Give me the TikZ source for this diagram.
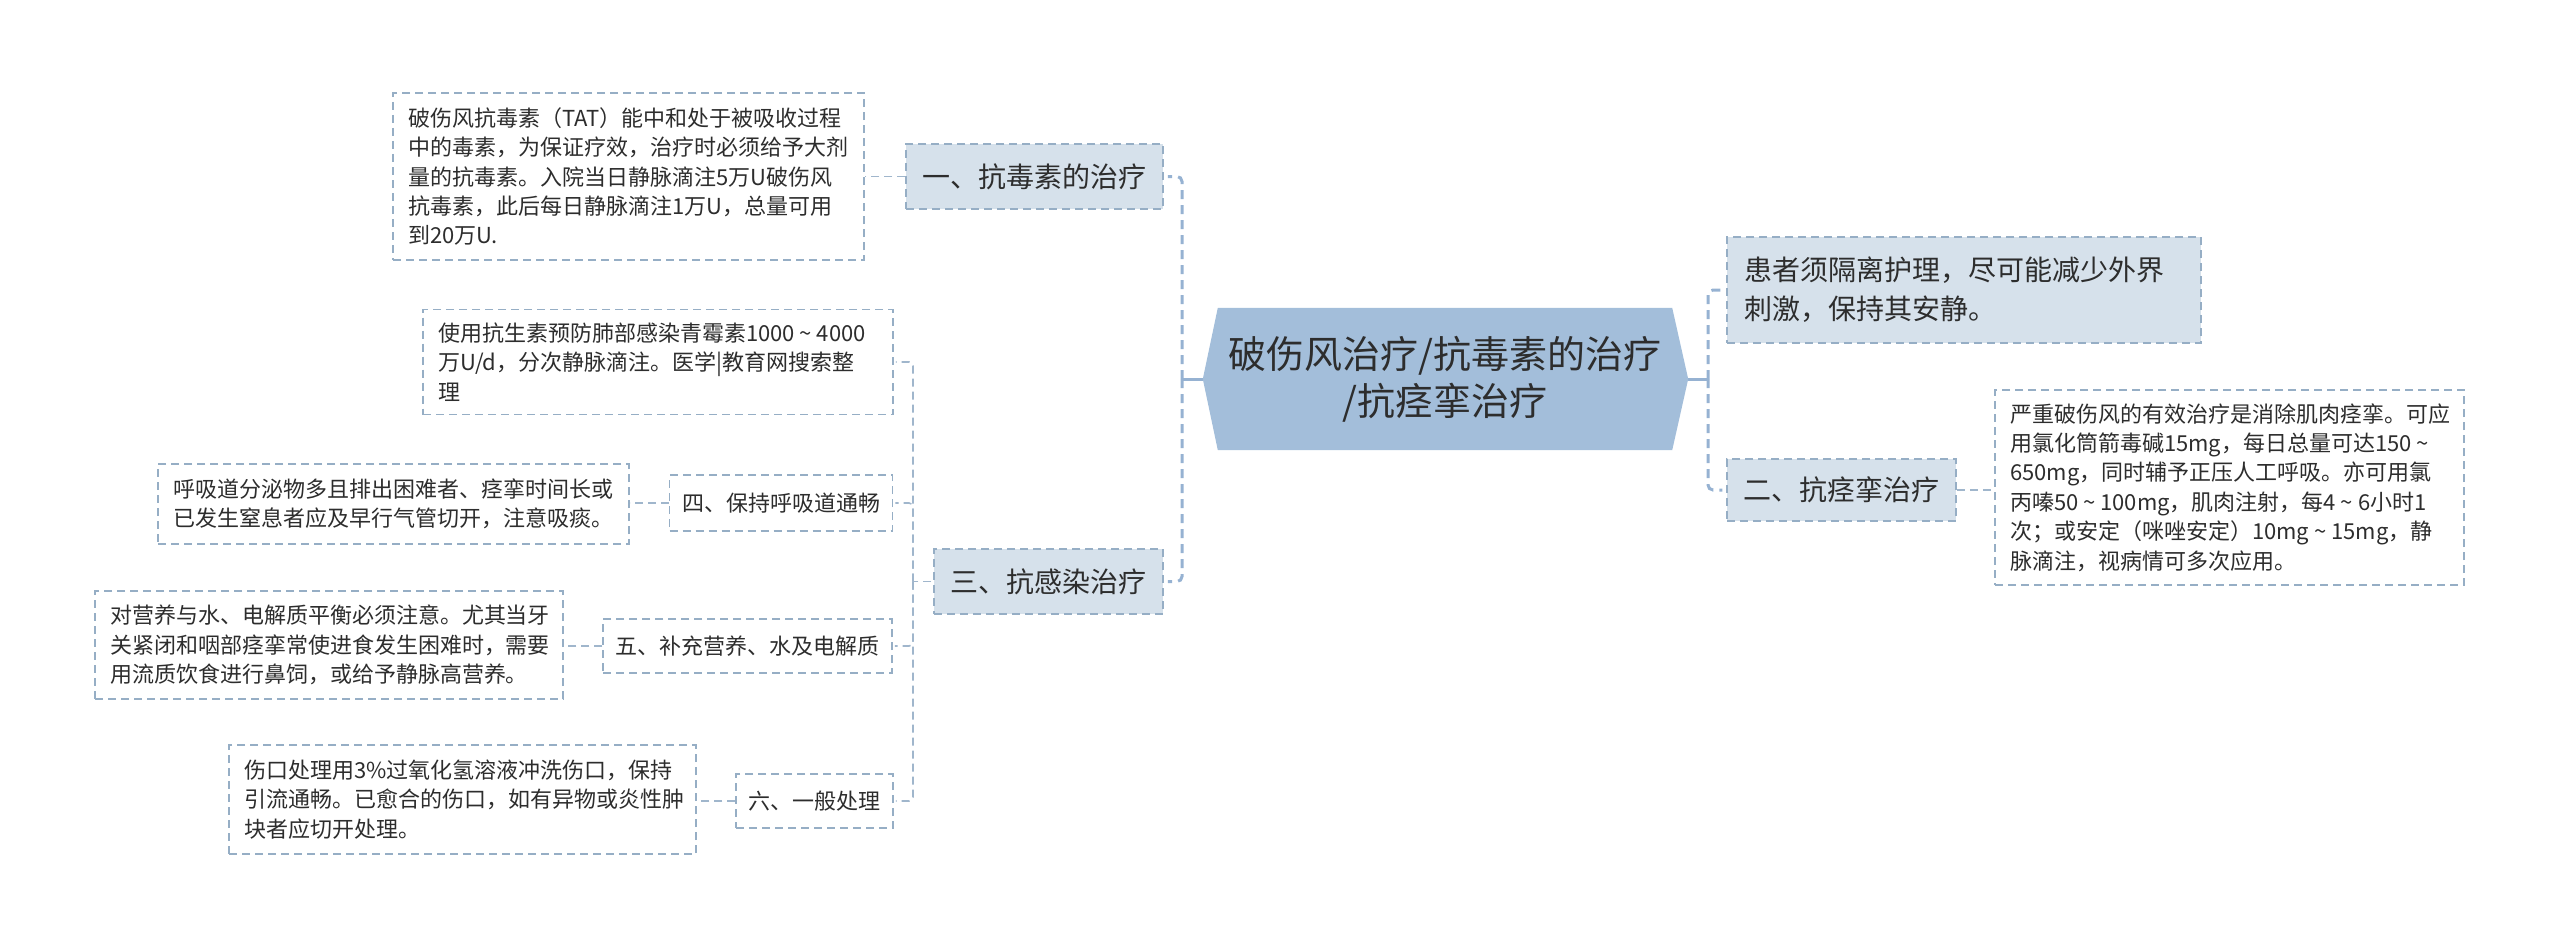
\documentclass[tikz,border=0pt]{standalone}
\usepackage{fontspec}
\setmainfont{Noto Sans CJK SC}
\usetikzlibrary{backgrounds}
\newcommand{\wtil}{\hbox to 1em{\hss\textasciitilde\hss}}
\definecolor{rootfill}{RGB}{163,190,218}
\definecolor{labfill}{RGB}{214,225,235}
\definecolor{bord}{RGB}{150,174,197}
\definecolor{conn}{RGB}{160,182,204}
\definecolor{trunkc}{RGB}{150,178,210}
\definecolor{txt}{RGB}{45,45,45}
\tikzset{
  dasheight/.style={dash pattern=on 8pt off 5pt},
  box/.style={draw=bord, line width=1.5pt, dasheight, text=txt, align=left, inner ysep=0pt},
  leaf/.style={box, fill=white, font=\fontsize{22}{29.4}\selectfont, inner xsep=15pt},
  labone/.style={box, fill=labfill, font=\fontsize{28}{38}\selectfont, inner xsep=16.5pt, minimum height=65pt},
  labtwo/.style={box, fill=white, font=\fontsize{22}{29}\selectfont, inner xsep=12.5pt},
  rootn/.style={text=txt, align=center, font=\fontsize{38}{47}\selectfont, minimum width=454pt, minimum height=142pt, inner sep=0pt},
  rootline/.style={draw=trunkc, line width=3pt},
  trunk/.style={draw=trunkc, line width=3pt, dash pattern=on 9pt off 6pt, rounded corners=5pt},
  sub/.style={draw=conn, line width=1.6pt, dasheight, rounded corners=4pt}
}
\begin{document}
\begin{tikzpicture}[x=1pt,y=-1pt]
\useasboundingbox (0,0) rectangle (2560,950);
% root
\node[rootn] (root) at (1445,379) {破伤风治疗/抗毒素的治疗\\/抗痉挛治疗};
\coordinate (rootL) at ([xshift=-15pt]root.west);
\coordinate (rootR) at ([xshift=16pt]root.east);
\begin{pgfonlayer}{background}
\fill[rootfill] (rootL) -- (root.north west) -- (root.north east) -- (rootR) -- (root.south east) -- (root.south west) -- cycle;
\end{pgfonlayer}
% left side
\node[labone] (c1) at (1034.5,176.5) {一、抗毒素的治疗};
\node[leaf, text width=441pt, minimum height=167pt] (t1) at (628.5,176.5) {破伤风抗毒素（TAT）能中和处于被吸收过程\\中的毒素，为保证疗效，治疗时必须给予大剂\\量的抗毒素。入院当日静脉滴注5万U破伤风\\抗毒素，此后每日静脉滴注1万U，总量可用\\到20万U.};
\node[labone] (c3) at (1048.5,581.5) {三、抗感染治疗};
\node[leaf, text width=440pt, minimum height=105pt] (t3) at (658,362) {使用抗生素预防肺部感染青霉素1000\wtil4000\\万U/d，分次静脉滴注。医学|教育网搜索整\\理};
\node[labtwo, minimum height=56pt] (c4) at (781,503) {四、保持呼吸道通畅};
\node[leaf, text width=441pt, minimum height=80pt] (t4) at (393.5,504) {呼吸道分泌物多且排出困难者、痉挛时间长或\\已发生窒息者应及早行气管切开，注意吸痰。};
\node[labtwo, minimum height=54pt] (c5) at (747.5,646) {五、补充营养、水及电解质};
\node[leaf, text width=438pt, minimum height=108pt] (t5) at (329,645) {对营养与水、电解质平衡必须注意。尤其当牙\\关紧闭和咽部痉挛常使进食发生困难时，需要\\用流质饮食进行鼻饲，或给予静脉高营养。};
\node[labtwo, minimum height=54pt] (c6) at (814.5,801) {六、一般处理};
\node[leaf, text width=437pt, minimum height=109pt] (t6) at (462.5,799.5) {伤口处理用3\%过氧化氢溶液冲洗伤口，保持\\引流通畅。已愈合的伤口，如有异物或炎性肿\\块者应切开处理。};
% right side
\node[box, fill=labfill, font=\fontsize{28}{39}\selectfont, inner xsep=17pt, text width=440pt, minimum height=106pt] (r1) at (1964,290) {患者须隔离护理，尽可能减少外界\\刺激，保持其安静。};
\node[labone, minimum height=62pt] (r2) at (1841.5,490) {二、抗痉挛治疗};
\node[leaf, text width=439pt, minimum height=195pt] (t2) at (2229.5,487.5) {严重破伤风的有效治疗是消除肌肉痉挛。可应\\用氯化筒箭毒碱15mg，每日总量可达150\wtil\\650mg，同时辅予正压人工呼吸。亦可用氯\\丙嗪50\wtil100mg，肌肉注射，每4\wtil6小时1\\次；或安定（咪唑安定）10mg\wtil15mg，静\\脉滴注，视病情可多次应用。};
% connectors: main
\coordinate (jL) at (1182,379);
\coordinate (jR) at (1708,379);
\draw[rootline] (rootL) -- (jL);
\draw[rootline] (rootR) -- (jR);
\draw[trunk] (jL) |- ([xshift=4pt]c1.east);
\draw[trunk] (jL) |- ([xshift=4pt]c3.east);
\draw[trunk] (jR) |- ([xshift=-4pt]r1.west);
\draw[trunk] (jR) |- ([xshift=-4pt]r2.west);
% connectors: under 三
\coordinate (j3) at (913,581.5);
\draw[sub] ([xshift=-2pt]c3.west) -- (j3);
\draw[sub] (j3) |- ([xshift=2pt]t3.east);
\draw[sub] (j3) |- ([xshift=2pt]c4.east);
\draw[sub] (j3) |- ([xshift=2pt]c5.east);
\draw[sub] (j3) |- ([xshift=2pt]c6.east);
% label to leaf
\draw[sub] (c1.west) -- (c1.west -| t1.east);
\draw[sub] (c4.west) -- (c4.west -| t4.east);
\draw[sub] (c5.west) -- (c5.west -| t5.east);
\draw[sub] (c6.west) -- (c6.west -| t6.east);
\draw[sub] (r2.east) -- (r2.east -| t2.west);
\end{tikzpicture}
\end{document}
